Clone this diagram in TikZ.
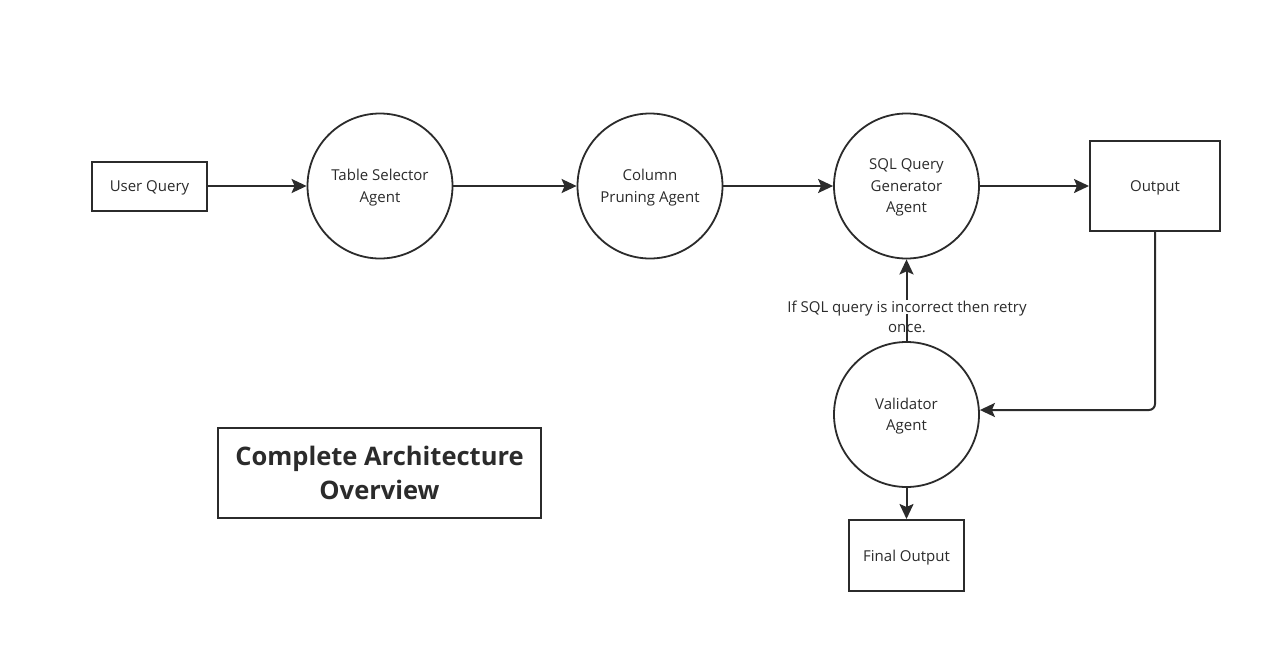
\documentclass[tikz,border=0pt]{standalone}
\usepackage{fontspec}
\setmainfont{Open Sans}
\usetikzlibrary{arrows.meta}
\definecolor{ink}{HTML}{2B2B2B}
\begin{document}
\begin{tikzpicture}[x=1pt,y=-1pt,
  every node/.style={font=\fontsize{15}{21.5}\selectfont, text=ink, align=center, text depth=0pt},
  boxnode/.style={draw=ink, line width=2pt, rectangle, inner sep=0pt},
  agent/.style={draw=ink, line width=1.8pt, circle, minimum size=145pt, inner sep=0pt},
  flow/.style={draw=ink, line width=2pt, -{Stealth[length=15pt,width=14pt,inset=3pt]}},
]
\useasboundingbox[fill=white] (0,0) rectangle (1280,664);
\node[boxnode, minimum width=115pt, minimum height=49pt] (uq) at (149.5,186) {User Query};
\node[agent] (ts) at (380,186) {Table Selector\\Agent};
\node[agent] (cp) at (650,186) {Column\\Pruning Agent};
\node[agent] (sql) at (906.5,186) {SQL Query\\Generator\\Agent};
\node[boxnode, minimum width=130pt, minimum height=90pt] (out) at (1155,186) {Output};
\node[agent] (val) at (906.5,414.5) {Validator\\Agent};
\node[boxnode, minimum width=115pt, minimum height=71pt] (fin) at (906.5,555.5) {Final Output};
\node[boxnode, minimum width=323pt, minimum height=90pt, font=\fontsize{25.5}{34}\selectfont\bfseries] (title) at (379.5,473) {Complete Architecture\\Overview};

\draw[flow] (uq.east) -- (ts.west);
\draw[flow] (ts.east) -- (cp.west);
\draw[flow] (cp.east) -- (sql.west);
\draw[flow] (sql.east) -- (out.west);
\coordinate (turn) at (out.south |- 0,410);
\draw[flow, rounded corners=6pt] (out.south) -- (turn) -- (val.east |- turn);
\draw[flow] (val.north) -- (sql.south);
\draw[flow] (val.south) -- (fin.north);
\node[fill=white, inner sep=1pt] (lab1) at (907,307) {If SQL query is incorrect then retry};
\node[inner sep=1pt] (lab2) at (907,328) {once.};
\end{tikzpicture}
\end{document}
